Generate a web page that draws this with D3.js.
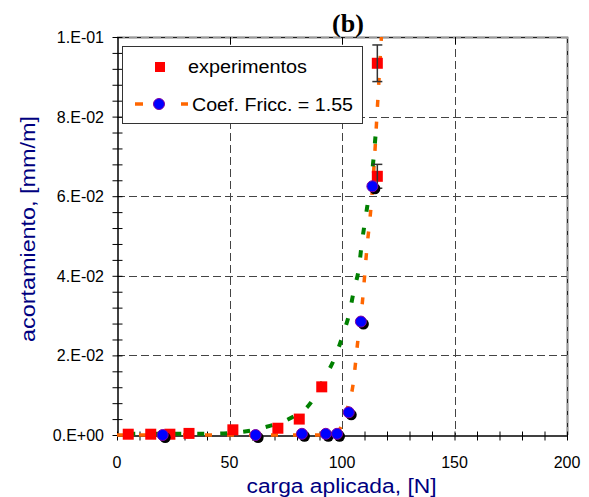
<!DOCTYPE html>
<html lang="es">
<head>
<meta charset="UTF-8">
<title>acortamiento vs carga aplicada (b)</title>
<script src="https://d3js.org/d3.v7.min.js"></script>
<style>
  body { margin: 0; background: #fff; }
  svg { display: block; font-family: Arial, "Liberation Sans", sans-serif; }
</style>
</head>
<body>
<svg width="589" height="497"></svg>
<script>
// experimentos (red squares) [carga N, acortamiento mm/m]
const expX = [5, 15, 23.5, 32, 51.5, 71.5, 81, 91, 115.7, 115.7];
const expY = [0.0002, 0.0002, 0.0002, 0.0004, 0.0013, 0.0017, 0.004, 0.0121, 0.065, 0.0934];
// error bars for the last two points
const errIdx = [8, 9];
const errLo = [0.062, 0.0888];
const errHi = [0.068, 0.098];

// simulation points (blue circles)
const simX = [20.3, 61.6, 82.2, 92.8, 97.8, 103, 108.4, 113.5];
const simY = [0, 0, 0.0003, 0.0003, 0.0003, 0.0057, 0.0285, 0.0625];

// orange dashed curve (Coef. Fricc. = 1.55)
const orangeX = [0, 20, 40, 60, 80, 90, 96, 99, 102, 105, 107, 109, 111, 113, 114.5, 115.5, 116.5, 117.5];
const orangeY = [0, 0, 0, 0, 0, 0, 0.0003, 0.0015, 0.006, 0.013, 0.0235, 0.033, 0.0465, 0.058, 0.07, 0.08, 0.09, 0.1];

// green dashed curve
const greenX = [5, 20, 40, 50, 56, 66, 77, 86.5, 91.7, 97, 100.6, 103.3, 105.3, 107.6, 108.7, 110.2, 111.7, 113.2, 114.2, 115.3];
const greenY = [0.0003, 0.0003, 0.0003, 0.0005, 0.0008, 0.002, 0.0042, 0.0084, 0.0138, 0.0197, 0.0255, 0.0307, 0.0364, 0.0423, 0.0477, 0.0536, 0.0592, 0.065, 0.0706, 0.078];

const xTicks = [0, 50, 100, 150, 200];
const yTicks = [0, 0.02, 0.04, 0.06, 0.08, 0.1];
const yTickLabels = ["0.E+00", "2.E-02", "4.E-02", "6.E-02", "8.E-02", "1.E-01"];

const svg = d3.select("svg");
const pLeft = 117, pRight = 567, pTop = 37, pBottom = 435;

const x = d3.scaleLinear().domain([0, 200]).range([pLeft, pRight]);
const y = d3.scaleLinear().domain([0, 0.1]).range([pBottom, pTop]);

// grid
const grid = svg.append("g").attr("stroke", "#444").attr("stroke-width", 1).attr("stroke-dasharray", "8,4");
grid.selectAll("line.gx").data([50, 100, 150]).join("line")
  .attr("x1", d => Math.round(x(d)) + 0.5).attr("x2", d => Math.round(x(d)) + 0.5)
  .attr("y1", pTop).attr("y2", pBottom);
grid.selectAll("line.gy").data([0.02, 0.04, 0.06, 0.08]).join("line")
  .attr("y1", d => Math.round(y(d)) + 0.5).attr("y2", d => Math.round(y(d)) + 0.5)
  .attr("x1", pLeft).attr("x2", pRight);

// top & right border (solid dark with grey dashes)
svg.append("path").attr("d", `M${pLeft},${pTop + 0.5}H${pRight + 0.5}V${pBottom}`)
  .attr("fill", "none").attr("stroke", "#222").attr("stroke-width", 1.5);
svg.append("path").attr("d", `M${pLeft},${pTop + 0.5}H${pRight + 0.5}V${pBottom}`)
  .attr("fill", "none").attr("stroke", "#999").attr("stroke-width", 1.5).attr("stroke-dasharray", "8,4");

// top ticks
svg.append("g").selectAll("line").data([50, 100, 150]).join("line")
  .attr("x1", d => Math.round(x(d)) + 0.5).attr("x2", d => Math.round(x(d)) + 0.5)
  .attr("y1", pTop).attr("y2", pTop + 7).attr("stroke", "#000");

// x axis
const xAxis = svg.append("g").attr("transform", `translate(0,${pBottom + 0.5})`)
  .call(d3.axisBottom(x).tickValues(d3.range(0, 201, 10)).tickSize(0).tickFormat(""));
xAxis.select(".domain").attr("stroke", "#000").attr("stroke-width", 1.5);
xAxis.selectAll(".tick line").remove();
xAxis.selectAll(".tick").append("line").attr("y1", -4).attr("y2", 5).attr("stroke", "#000");
svg.append("g").selectAll("text").data(xTicks).join("text")
  .attr("x", d => x(d)).attr("y", 468)
  .attr("text-anchor", "middle").attr("font-size", 16).attr("fill", "#000").text(d => d);

// y axis
const yAxis = svg.append("g").attr("transform", `translate(${pLeft + 0.5},0)`)
  .call(d3.axisLeft(y).tickValues(d3.range(0, 0.1001, 0.004)).tickSize(0).tickFormat(""));
yAxis.select(".domain").attr("stroke", "#000").attr("stroke-width", 1.5);
yAxis.selectAll(".tick line").remove();
yAxis.selectAll(".tick").append("line").attr("x1", -5).attr("x2", 5).attr("stroke", "#000");
svg.append("g").selectAll("text").data(yTicks).join("text")
  .attr("x", 104).attr("y", d => y(d) + 6)
  .attr("text-anchor", "end").attr("font-size", 16).attr("fill", "#000")
  .text((d, i) => yTickLabels[i]);

// axis titles
svg.append("text").attr("x", 246.5).attr("y", 493)
  .attr("font-size", 19.5).attr("fill", "#000080")
  .attr("textLength", 190).attr("lengthAdjust", "spacingAndGlyphs").text("carga aplicada, [N]");
svg.append("text").attr("transform", "translate(35,342) rotate(-90)")
  .attr("font-size", 19.5).attr("fill", "#000080")
  .attr("textLength", 226).attr("lengthAdjust", "spacingAndGlyphs").text("acortamiento, [mm/m]");

// title
svg.append("text").attr("x", 348).attr("y", 32).attr("text-anchor", "middle")
  .attr("font-family", "'Liberation Serif', 'Times New Roman', serif").attr("font-weight", "bold")
  .attr("font-size", 26).attr("fill", "#000").text("(b)");

// curves
const line = d3.line().x(d => x(d[0])).y(d => y(d[1])).curve(d3.curveMonotoneX);
svg.append("path").datum(d3.zip(orangeX, orangeY)).attr("d", line)
  .attr("fill", "none").attr("stroke", "#ff6600").attr("stroke-width", 3.5).attr("stroke-dasharray", "7,15");
svg.append("path").datum(d3.zip(greenX, greenY)).attr("d", line)
  .attr("fill", "none").attr("stroke", "#008000").attr("stroke-width", 4).attr("stroke-dasharray", "7,16");

// experiments
const ex = d3.zip(expX, expY);
svg.append("g").selectAll("rect").data(ex).join("rect")
  .attr("x", d => x(d[0]) - 5.5).attr("y", d => y(d[1]) - 5.5)
  .attr("width", 11).attr("height", 11).attr("fill", "#ff0000");

// error bars
const eb = svg.append("g").attr("stroke", "#333").attr("stroke-width", 1.5);
errIdx.forEach((k, i) => {
  const cx = x(expX[k]);
  eb.append("line").attr("x1", cx).attr("x2", cx).attr("y1", y(errLo[i])).attr("y2", y(errHi[i]));
  eb.append("line").attr("x1", cx - 5).attr("x2", cx + 5).attr("y1", y(errLo[i])).attr("y2", y(errLo[i]));
  eb.append("line").attr("x1", cx - 5).attr("x2", cx + 5).attr("y1", y(errHi[i])).attr("y2", y(errHi[i]));
});

// simulation points with shadow
const sim = d3.zip(simX, simY);
svg.append("g").selectAll("circle").data(sim).join("circle")
  .attr("cx", d => x(d[0]) + 2.5).attr("cy", d => y(d[1]) + 2.5).attr("r", 5.5).attr("fill", "#000");
svg.append("g").selectAll("circle").data(sim).join("circle")
  .attr("cx", d => x(d[0])).attr("cy", d => y(d[1])).attr("r", 5.5)
  .attr("fill", "#0000ff").attr("stroke", "#8000a0").attr("stroke-width", 1);

// legend
const lg = svg.append("g");
lg.append("rect").attr("x", 122.5).attr("y", 46.5).attr("width", 240).attr("height", 77)
  .attr("fill", "#fff").attr("stroke", "#333").attr("stroke-width", 1);
lg.append("rect").attr("x", 155).attr("y", 62).attr("width", 10).attr("height", 10).attr("fill", "#ff0000");
lg.append("text").attr("x", 188).attr("y", 73).attr("font-size", 18).attr("fill", "#000")
  .attr("textLength", 119).attr("lengthAdjust", "spacingAndGlyphs").text("experimentos");
lg.append("line").attr("x1", 135).attr("x2", 143).attr("y1", 104).attr("y2", 104)
  .attr("stroke", "#ff6600").attr("stroke-width", 3.5);
lg.append("line").attr("x1", 181).attr("x2", 188).attr("y1", 104).attr("y2", 104)
  .attr("stroke", "#ff6600").attr("stroke-width", 3.5);
lg.append("circle").attr("cx", 159).attr("cy", 104).attr("r", 5.5)
  .attr("fill", "#0000ff").attr("stroke", "#8000a0").attr("stroke-width", 1);
lg.append("text").attr("x", 192).attr("y", 111).attr("font-size", 18).attr("fill", "#000")
  .attr("textLength", 161).attr("lengthAdjust", "spacingAndGlyphs").text("Coef. Fricc. = 1.55");
</script>
</body>
</html>
